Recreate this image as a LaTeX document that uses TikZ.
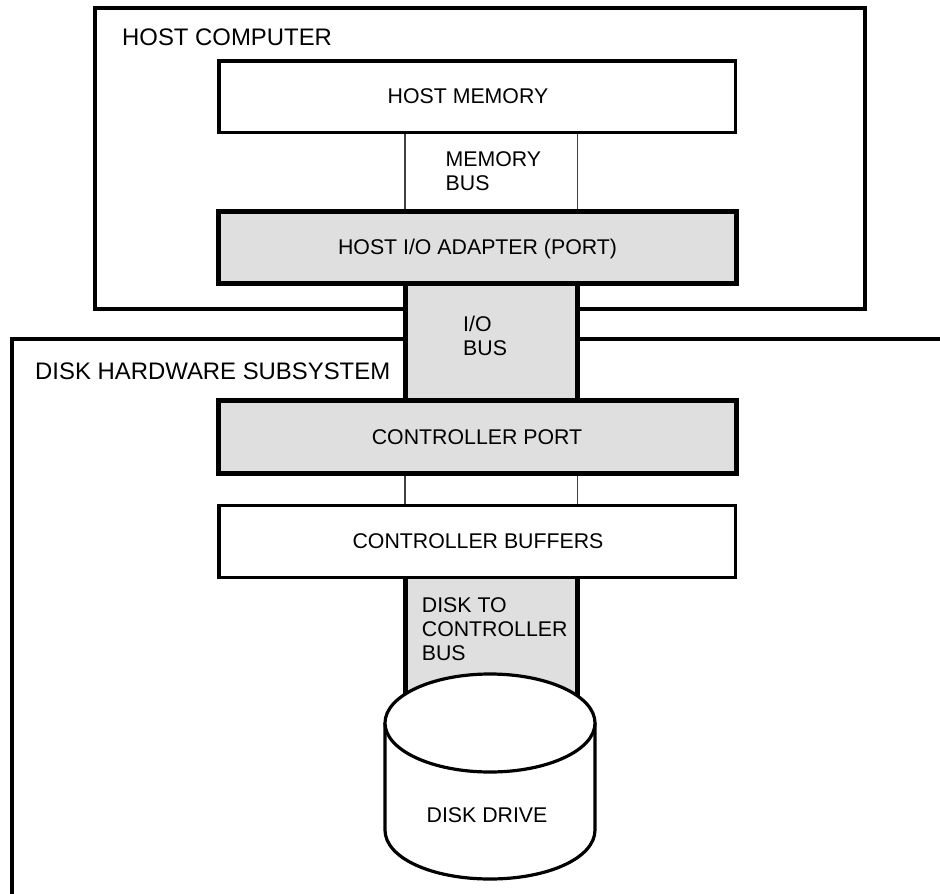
\documentclass[tikz,border=0pt]{standalone}
\usepackage{fontspec}
\setmainfont{Liberation Sans}
\definecolor{busgray}{HTML}{DFDFDF}
\tikzset{
  lbl/.style={font=\fontsize{21.3}{24}\selectfont,inner sep=0pt,align=left},
  biglbl/.style={font=\fontsize{23.9}{27}\selectfont,inner sep=0pt,align=left},
  hair/.style={line width=1.2pt,draw=black!75},
  thinbox/.style={draw=black,line width=3.5pt,fill=white},
  thickbox/.style={draw=black,line width=5pt,fill=busgray},
  busedge/.style={draw=black,line width=5pt},
  encl/.style={draw=black,line width=4pt},
  diskline/.style={draw=black,line width=3.2pt,fill=white}
}
\begin{document}
\begin{tikzpicture}[x=1pt,y=-1pt]
\useasboundingbox (0,0) rectangle (940,894);
% enclosures
\draw[encl] (94.5,8) rectangle (865,309);
\draw[encl] (940,338.5) -- (12,338.5) -- (12,894);
% I/O bus
\fill[busgray] (405,283) rectangle (577.5,400);
\draw[busedge] (405,283) -- (405,400);
\draw[busedge] (577.5,283) -- (577.5,400);
% hairlines
\coordinate (ma) at (405,132); \coordinate (mb) at (405,211);
\coordinate (mc) at (577.5,132); \coordinate (md) at (577.5,211);
\draw[hair] (ma) -- (mb); \draw[hair] (mc) -- (md);
\coordinate (ca) at (405,473); \coordinate (cb) at (405,505);
\coordinate (cc) at (577.5,473); \coordinate (cd) at (577.5,505);
\draw[hair] (ca) -- (cb); \draw[hair] (cc) -- (cd);
% disk bus
\fill[busgray] (405,577) rectangle (577.5,700);
\draw[busedge] (405,577) -- (405,700);
\draw[busedge] (577.5,577) -- (577.5,700);
% boxes
\draw[thinbox] (219,61) rectangle (735.5,132.5);
\draw[thickbox] (218.5,211) rectangle (736,283.5);
\draw[thickbox] (218.5,400.5) rectangle (736,473);
\draw[thinbox] (219,505.5) rectangle (735.5,577.5);
% disk
\draw[diskline] (385,723) -- (385,830) .. controls (385,858) and (432,879) .. (490,879) .. controls (548,879) and (595,858) .. (595,830) -- (595,723);
\draw[diskline] (490,723) ellipse [x radius=105,y radius=49];
% labels
\node[biglbl,anchor=west] (t1) at (122,37) {HOST COMPUTER};
\node[lbl] (t2) at (468,96.5) {HOST MEMORY};
\node[lbl,anchor=north west] (t3) at (445.5,151.3) {MEMORY\\BUS};
\node[lbl] (t4) at (477.5,249) {HOST I/O ADAPTER (PORT)};
\node[lbl,anchor=north west] (t5) at (463,316.3) {I/O\\BUS};
\node[biglbl,anchor=west] (t6) at (35,371) {DISK HARDWARE SUBSYSTEM};
\node[lbl] (t7) at (477,437) {CONTROLLER PORT};
\node[lbl] (t8) at (478,541) {CONTROLLER BUFFERS};
\node[lbl,anchor=north west] (t9) at (421.7,597.3) {DISK TO\\CONTROLLER\\BUS};
\node[lbl] (t10) at (487,815) {DISK DRIVE};
\end{tikzpicture}
\end{document}
